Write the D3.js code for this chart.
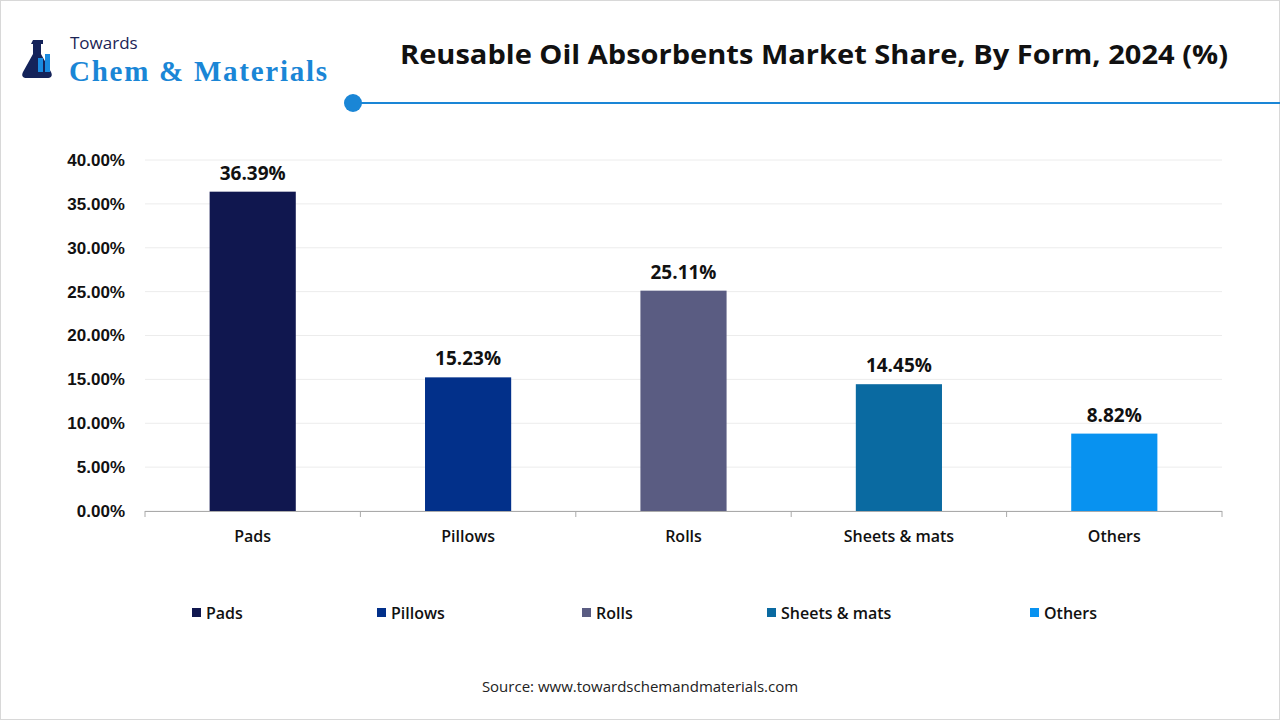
<!DOCTYPE html><html><head><meta charset="utf-8">
<script src="https://cdn.jsdelivr.net/npm/d3@7"></script>
<style>body{margin:0;background:#fff}svg{font-family:"Open Sans",Roboto,sans-serif}</style></head><body>
<svg id="c" width="1280" height="720"></svg>
<script>
const categories=["Pads","Pillows","Rolls","Sheets & mats","Others"];
const values=[36.39,15.23,25.11,14.45,8.82];
const colors=["#10174f","#02308a","#5a5c82","#0a6aa1","#0892f0"];
const yTicks=[0,5,10,15,20,25,30,35,40];
const svg=d3.select("#c");
svg.append("rect").attr("x",0.5).attr("y",0.5).attr("width",1279).attr("height",719).attr("fill","#fff").attr("stroke","#d8d8d8");
// logo
const g0=svg.append("g");
g0.append("path").attr("d","M38 40h10v4h-2v10l10 18c2 4 0 6-4 6H32c-4 0-6-2-4-6l10-18V44h-2z").attr("fill","#14235a").attr("transform","translate(-5,0)");
g0.append("rect").attr("x",38).attr("y",58).attr("width",5).attr("height",14).attr("fill","#1a8be0");
g0.append("rect").attr("x",45).attr("y",54).attr("width",5).attr("height",18).attr("fill","#1a8be0");
g0.append("text").attr("x",70).attr("y",49).attr("font-size",17).attr("fill","#1b2456").text("Towards");
g0.append("text").attr("x",69).attr("y",81).attr("font-size",29).attr("font-family","Liberation Serif,serif").attr("font-weight","bold").attr("fill","#1a86d6").attr("textLength",258).text("Chem & Materials");
svg.append("text").attr("x",400).attr("y",64).attr("font-size",27).attr("font-weight","bold").attr("fill","#111").attr("textLength",828).attr("lengthAdjust","spacingAndGlyphs").text("Reusable Oil Absorbents Market Share, By Form, 2024 (%)");
svg.append("line").attr("x1",353).attr("x2",1280).attr("y1",103).attr("y2",103).attr("stroke","#1a86d6").attr("stroke-width",2);
svg.append("circle").attr("cx",353).attr("cy",103).attr("r",9).attr("fill","#1a86d6");
const x=d3.scaleBand().domain(categories).range([145,1222]).paddingInner(0.6).paddingOuter(0.3);
const xb=d3.scaleBand().domain(categories).range([145,1222]);
const y=d3.scaleLinear().domain([0,40]).range([511,160]);
svg.append("g").selectAll("line").data(yTicks).join("line").attr("x1",145).attr("x2",1222).attr("y1",d=>y(d)).attr("y2",d=>y(d)).attr("stroke","#ececec");
const ya=svg.append("g").attr("transform","translate(145,0)").call(d3.axisLeft(y).tickValues(yTicks).tickFormat(d=>d.toFixed(2)+"%").tickSize(0).tickPadding(20));
ya.select(".domain").remove();ya.selectAll("text").attr("font-size",17).attr("font-weight","bold").attr("fill","#111");
svg.selectAll(".bar").data(values).join("rect").attr("x",(d,i)=>x(categories[i])).attr("width",x.bandwidth()).attr("y",d=>y(d)).attr("height",d=>y(0)-y(d)).attr("fill",(d,i)=>colors[i]);
svg.selectAll(".lbl").data(values).join("text").attr("x",(d,i)=>x(categories[i])+x.bandwidth()/2).attr("y",d=>y(d)-12).attr("text-anchor","middle").attr("font-size",19).attr("font-weight","bold").attr("fill","#111").text(d=>d.toFixed(2)+"%");
svg.append("line").attr("x1",145).attr("x2",1222).attr("y1",511.5).attr("y2",511.5).attr("stroke","#aaa");
svg.selectAll(".tk").data(d3.range(6)).join("line").attr("x1",i=>145+i*xb.step()).attr("x2",i=>145+i*xb.step()).attr("y1",511).attr("y2",517).attr("stroke","#aaa");
svg.selectAll(".xl").data(categories).join("text").attr("x",d=>xb(d)+xb.bandwidth()/2).attr("y",542).attr("text-anchor","middle").attr("font-size",16).attr("font-weight","600").attr("fill","#111").text(d=>d);
const lx=[192,377,582,767,1030];
const lg=svg.selectAll(".lg").data(categories).join("g").attr("transform",(d,i)=>`translate(${lx[i]},613)`);
lg.append("rect").attr("x",0).attr("y",-5).attr("width",9).attr("height",9).attr("fill",(d,i)=>colors[i]);
lg.append("text").attr("x",14).attr("y",6).attr("font-size",16).attr("font-weight","600").attr("fill","#111").text(d=>d);
svg.append("text").attr("x",640).attr("y",692).attr("text-anchor","middle").attr("font-size",15).attr("fill","#222").text("Source: www.towardschemandmaterials.com");
</script></body></html>
